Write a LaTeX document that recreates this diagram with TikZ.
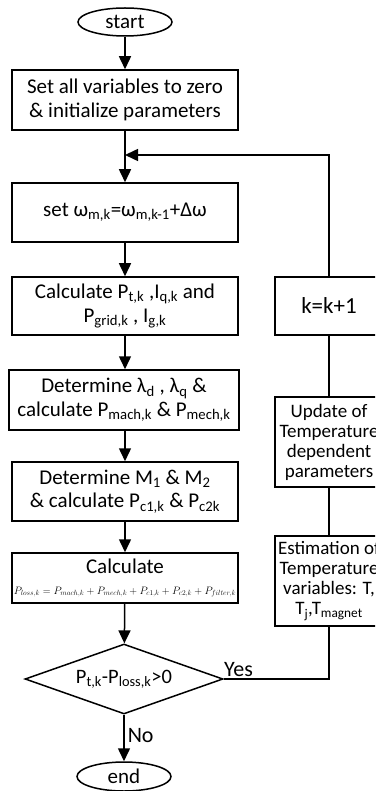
\documentclass[tikz,border=0pt]{standalone}
\usepackage{fontspec}
\setmainfont{Carlito}
\usepackage{graphicx}
\usetikzlibrary{shapes.geometric,arrows.meta}
\newcommand{\sbs}[1]{\textsubscript{#1}}
\begin{document}
\begin{tikzpicture}[x=1pt,y=-1pt,
  every node/.style={inner sep=1pt},
  box/.style={draw,line width=1.5pt,rectangle,align=center,font=\fontsize{21}{23.5}\selectfont,minimum width=226pt},
  rbox/.style={draw,line width=1.5pt,rectangle,align=center,font=\fontsize{19}{20}\selectfont,minimum width=108pt},
  term/.style={draw,line width=1.5pt,ellipse,minimum width=94pt,minimum height=28pt,font=\fontsize{21}{24}\selectfont},
  dec/.style={draw,line width=1.5pt,diamond,aspect=2.83,minimum width=198pt,minimum height=70pt,inner sep=0pt,font=\fontsize{20.5}{24}\selectfont},
  line/.style={line width=1.5pt},
  arr/.style={line width=1.5pt,-{Triangle[width=12pt,length=13pt]}},
  lbl/.style={font=\fontsize{22}{24}\selectfont}]
\clip (0,0) rectangle (375,791);
\node[term] (start) at (125,22) {start};
\node[box,minimum height=60pt] (b1) at (125,100) {Set all variables to zero\\\& initialize parameters};
\node[box,minimum height=59pt] (b2) at (125,212.5) {set ω\sbs{m,k}=ω\sbs{m,k-1}+Δω};
\node[box,minimum height=58pt] (b3) at (125,306) {Calculate P\sbs{t,k} ,I\sbs{q,k} and\\P\sbs{grid,k} , I\sbs{g,k}};
\node[box,minimum height=60pt,minimum width=230pt] (b4) at (124,400) {Determine λ\sbs{d} , λ\sbs{q} \&\\calculate P\sbs{mach,k} \& P\sbs{mech,k}};
\node[box,minimum height=59pt] (b5) at (125,491.5) {Determine M\sbs{1} \& M\sbs{2}\\\& calculate P\sbs{c1,k} \& P\sbs{c2k}};
\node[box,minimum height=50pt] (b6) at (125,578) {Calculate\\[-3pt]\resizebox{222pt}{!}{$P_{loss,k}=P_{mach,k}+P_{mech,k}+P_{c1,k}+P_{c2,k}+P_{filter,k}$}};
\node[dec] (dia) at (124,679) {P\sbs{t,k}-P\sbs{loss,k}>0};
\node[term,minimum height=29pt] (end) at (124,776.5) {end};
\node[rbox,minimum height=58pt,font=\fontsize{23}{24}\selectfont] (kk) at (329,306) {k=k+1};
\node[rbox,minimum height=90pt] (upd) at (329,442) {Update of\\Temperature\\dependent\\parameters};
\node[rbox,minimum height=90pt] (est) at (329,581) {Estimation of\\Temperature\\variables: T,\\T\sbs{j},T\sbs{magnet}};
\coordinate (merge) at (125,155);
\draw[arr] (start) -- (b1);
\draw[arr] (b1) -- (b2);
\draw[arr] (b2) -- (b3);
\draw[arr] (b3) -- (b4.north -| b3.south);
\draw[arr] (b4.south -| b5.north) -- (b5);
\draw[arr] (b5) -- (b6);
\draw[arr] (b6) -- (dia);
\draw[arr] (dia) -- node[lbl,right,pos=0.45,xshift=2pt] {No} (end);
\draw[line] (dia.east) -- node[lbl,above,pos=0.14,yshift=1pt] {Yes} (dia.east -| est.south) -- (est.south);
\draw[line] (est) -- (upd);
\draw[line] (upd) -- (kk);
\draw[arr] (kk.north) |- (merge);
\end{tikzpicture}
\end{document}
